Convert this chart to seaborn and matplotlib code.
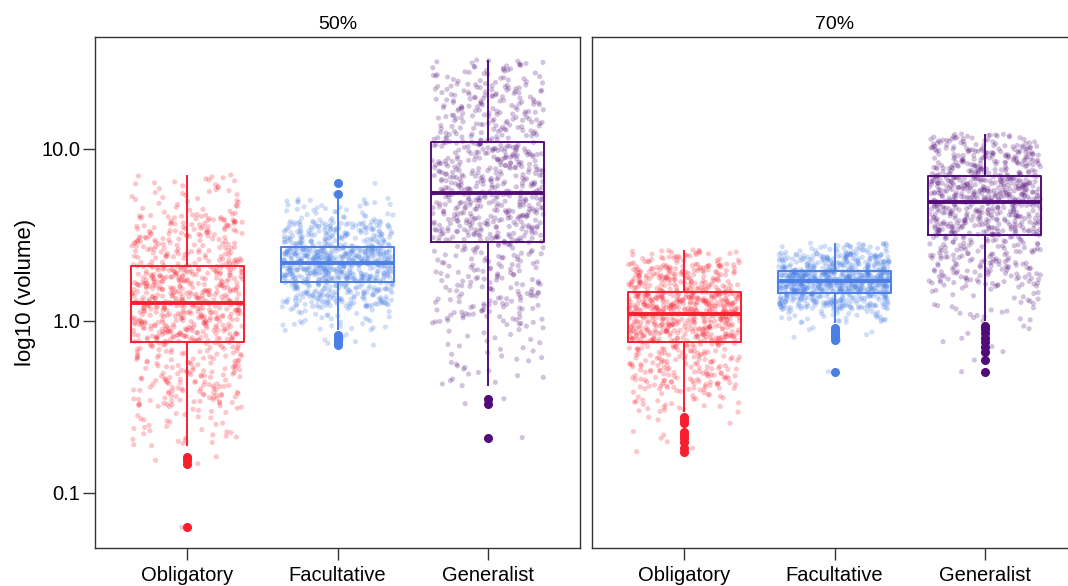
import numpy as np
import pandas as pd
import matplotlib
matplotlib.use("Agg")
import matplotlib.pyplot as plt
import seaborn as sns

plt.rcParams["font.family"] = ["Liberation Sans", "DejaVu Sans"]

groups = ["Obligatory", "Facultative", "Generalist"]
panels = ["50%", "70%"]
palette = {"Obligatory": "#F81E2E", "Facultative": "#4A7FE6", "Generalist": "#520C7A"}

# log10 volume per group: whisker ends plus the 5/25/50/75/95 % quantiles
# order: [low whisker, p05, q1, median, q3, p95, high whisker]
obl_50 = [-0.725, -0.50, -0.120, 0.106, 0.322, 0.62, 0.849]
fac_50 = [-0.055, 0.08, 0.229, 0.337, 0.428, 0.58, 0.712]
gen_50 = [-0.376, -0.02, 0.461, 0.744, 1.041, 1.38, 1.517]
obl_70 = [-0.530, -0.40, -0.120, 0.041, 0.167, 0.33, 0.413]
fac_70 = [-0.010, 0.07, 0.165, 0.231, 0.293, 0.39, 0.452]
gen_70 = [0.000, 0.20, 0.498, 0.694, 0.841, 1.02, 1.087]

# outlying log10 volumes beyond the whiskers
obl_50_out = [-0.79, -0.81, -0.83, -1.20]
fac_50_out = [0.74, 0.80, -0.08, -0.095, -0.11, -0.12, -0.13, -0.14]
gen_50_out = [-0.452, -0.481, -0.678]
obl_70_out = [-0.56, -0.575, -0.595, -0.643, -0.663, -0.682, -0.702, -0.740, -0.760]
fac_70_out = [-0.04, -0.05, -0.065, -0.08, -0.095, -0.11, -0.295]
gen_70_out = [-0.03, -0.045, -0.072, -0.101, -0.12, -0.149, -0.178, -0.227, -0.295]

n_per_group = 800

summaries = {
    ("50%", "Obligatory"): (obl_50, obl_50_out),
    ("50%", "Facultative"): (fac_50, fac_50_out),
    ("50%", "Generalist"): (gen_50, gen_50_out),
    ("70%", "Obligatory"): (obl_70, obl_70_out),
    ("70%", "Facultative"): (fac_70, fac_70_out),
    ("70%", "Generalist"): (gen_70, gen_70_out),
}


def group_values(summary, outliers, n):
    """Sample values laid out along the quantile curve of the summary."""
    lo, p05, q1, med, q3, p95, hi = summary
    k_low = sum(1 for v in outliers if v < lo)
    total = n + len(outliers)
    f_lo = k_low / (total - 1)
    f_hi = (k_low + n - 1) / (total - 1)
    ranks = (k_low + np.arange(n)) / (total - 1)
    inner = np.interp(ranks, [f_lo, 0.05, 0.25, 0.50, 0.75, 0.95, f_hi],
                      [lo, p05, q1, med, q3, p95, hi])
    return np.concatenate([inner, np.asarray(outliers, dtype=float)])


frames = []
for (panel, group), (summary, outliers) in summaries.items():
    vals = group_values(summary, outliers, n_per_group)
    frames.append(pd.DataFrame({"panel": panel, "group": group, "logv": vals}))
df = pd.concat(frames, ignore_index=True)

W, H = 1068, 586
fig = plt.figure(figsize=(W / 100, H / 100), dpi=100)
ax_l = fig.add_axes([95 / W, 38 / H, 485 / W, 511 / H])
ax_r = fig.add_axes([592 / W, 38 / H, 485 / W, 511 / H])

np.random.seed(11)
spine_color = "#333333"
for ax, panel in zip([ax_l, ax_r], panels):
    sub = df[df["panel"] == panel]
    sns.stripplot(data=sub, x="group", y="logv", hue="group", order=groups,
                  hue_order=groups, palette=palette, jitter=0.37, size=3.7,
                  alpha=0.25, linewidth=0, legend=False, ax=ax, zorder=1)
    sns.boxplot(data=sub, x="group", y="logv", hue="group", order=groups,
                hue_order=groups, palette=palette, fill=False, width=0.75,
                showcaps=False, whis=1.5, linewidth=1.4,
                medianprops=dict(linewidth=2.8),
                flierprops=dict(marker="o", markersize=5.5),
                legend=False, ax=ax)
    for line in ax.lines:
        if line.get_marker() == "o":
            line.set_markerfacecolor(line.get_markeredgecolor())
            line.set_zorder(3)

    ax.set_xlim(-0.613, 2.613)
    ax.set_ylim(-1.32, 1.651)
    ax.set_xlabel("")
    ax.set_ylabel("")
    ax.set_title(panel, fontsize=14, pad=6)
    for sp in ax.spines.values():
        sp.set_visible(True)
        sp.set_color(spine_color)
        sp.set_linewidth(1.0)
    ax.tick_params(axis="x", length=8.5, width=1, color=spine_color,
                   labelsize=14.5, pad=4.5, bottom=True)
    ax.grid(False)

ax_l.set_yticks([-1, 0, 1])
ax_l.set_yticklabels(["0.1", "1.0", "10.0"])
ax_l.tick_params(axis="y", length=8.5, width=1, color=spine_color,
                 labelsize=14.5, pad=2, left=True)
ax_l.set_ylabel("log10 (volume)", fontsize=16, labelpad=4)
ax_r.set_yticks([])
ax_r.tick_params(axis="y", left=False, labelleft=False)

fig.savefig("out.png", dpi=100)
